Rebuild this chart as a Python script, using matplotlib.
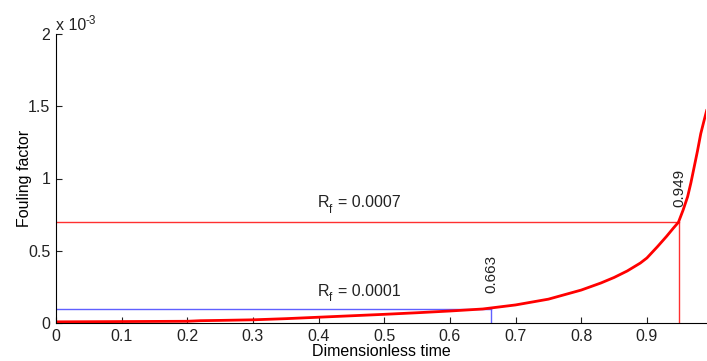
import matplotlib.pyplot as plt
from matplotlib.ticker import FuncFormatter

plt.rcParams['font.family'] = ['Liberation Sans', 'DejaVu Sans']

# Curva del factor de ensuciamiento
tiempo = [0, 0.05, 0.1, 0.15, 0.2, 0.22, 0.25, 0.3, 0.35, 0.4, 0.45, 0.5, 0.55, 0.6,
          0.65, 0.7, 0.75, 0.8, 0.83, 0.85, 0.87, 0.89, 0.9, 0.916, 0.93, 0.94, 0.948,
          0.955, 0.962, 0.967, 0.972, 0.977, 0.982, 0.987, 0.991]
fouling = [0.008e-3, 0.009e-3, 0.010e-3, 0.011e-3, 0.012e-3, 0.016e-3, 0.018e-3, 0.022e-3,
           0.030e-3, 0.040e-3, 0.050e-3, 0.060e-3, 0.071e-3, 0.083e-3, 0.097e-3, 0.125e-3,
           0.165e-3, 0.228e-3, 0.277e-3, 0.315e-3, 0.36e-3, 0.415e-3, 0.45e-3, 0.528e-3,
           0.60e-3, 0.655e-3, 0.697e-3, 0.78e-3, 0.874e-3, 0.97e-3, 1.08e-3, 1.19e-3,
           1.31e-3, 1.40e-3, 1.47e-3]

# Umbrales
rf_alto, t_alto = 0.0007, 0.949
rf_bajo, t_bajo = 0.0001, 0.663

fig = plt.figure(figsize=(7.07, 3.61), dpi=100)
ax = fig.add_axes([56 / 707, 1 - 323 / 361, 650 / 707, 289 / 361])

ax.plot([0, t_alto], [rf_alto, rf_alto], color='#ff3030', lw=1)
ax.plot([t_alto, t_alto], [0, rf_alto], color='#ff3030', lw=1)
ax.plot([0, t_bajo], [rf_bajo, rf_bajo], color='#6060ff', lw=1)
ax.plot([t_bajo, t_bajo], [0, rf_bajo], color='#6060ff', lw=1)
ax.plot(tiempo, fouling, color='red', lw=2)

# Etiquetas de los umbrales (R con subíndice f)
for y_txt, txt in [(0.80e-3, '= 0.0007'), (0.19e-3, '= 0.0001')]:
    ax.text(0.398, y_txt, 'R', fontsize=11.5, color='#222222')
    ax.annotate('f', xy=(0.398, y_txt), xytext=(8.5, -4), textcoords='offset points',
                fontsize=8.5, color='#222222')
    ax.annotate(txt, xy=(0.398, y_txt), xytext=(15, 0), textcoords='offset points',
                fontsize=11.5, color='#222222')

ax.text(t_bajo, 0.21e-3, '0.663', rotation=90, fontsize=11, ha='center', va='bottom', color='#222222')
ax.text(t_alto, 0.80e-3, '0.949', rotation=90, fontsize=11, ha='center', va='bottom', color='#222222')

ax.set_xlim(0, 0.99)
ax.set_ylim(0, 2e-3)
ax.set_xticks([0, 0.1, 0.2, 0.3, 0.4, 0.5, 0.6, 0.7, 0.8, 0.9])
ax.set_xticklabels(['0', '0.1', '0.2', '0.3', '0.4', '0.5', '0.6', '0.7', '0.8', '0.9'])
ax.set_yticks([0, 0.5e-3, 1e-3, 1.5e-3, 2e-3])
ax.yaxis.set_major_formatter(FuncFormatter(lambda v, p: f'{v * 1e3:g}'))
ax.tick_params(direction='in', labelsize=11.5, colors='#222222', length=4, pad=4)
ax.spines['top'].set_visible(False)
ax.spines['right'].set_visible(False)

# Multiplicador del eje y
ax.text(0, 1.005, 'x 10', transform=ax.transAxes, fontsize=11.5, color='#222222', va='bottom')
ax.text(0.046, 1.025, '-3', transform=ax.transAxes, fontsize=8.5, color='#222222', va='bottom')

ax.set_xlabel('Dimensionless time', fontsize=11.5, labelpad=0)
ax.set_ylabel('Fouling factor', fontsize=11.5, labelpad=-3)

fig.savefig('out.png', dpi=100)
